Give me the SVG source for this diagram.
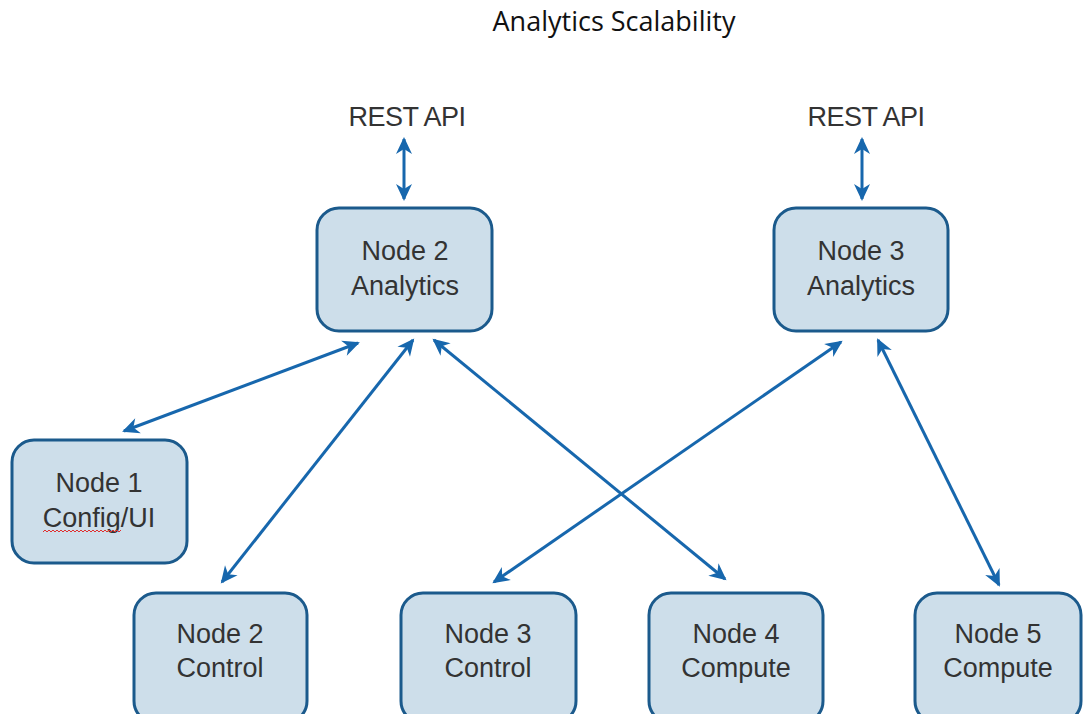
<svg xmlns="http://www.w3.org/2000/svg" width="1083" height="714" viewBox="0 0 1083 714">
<style>
.box{fill:#cddeea;stroke:#1b5a8c;stroke-width:3}
.lbl{font-family:"Liberation Sans",Arial,sans-serif;font-size:27px;fill:#333;text-anchor:middle}
.api{letter-spacing:-0.5px}
.con{stroke:#1767ad;stroke-width:3;fill:none}
.title{font-family:"Open Sans","Liberation Sans",sans-serif;font-size:27px;fill:#111;text-anchor:middle}
</style>
<defs>
<marker id="ah" viewBox="0 0 20 20" refX="16" refY="10" markerWidth="20" markerHeight="20" markerUnits="userSpaceOnUse" orient="auto-start-reverse">
<path d="M1,2 L18,10 L1,18 L6,10 Z" fill="#1767ad"/>
</marker>
</defs>
<rect width="1083" height="714" fill="#ffffff"/>
<text class="title" x="614" y="31">Analytics Scalability</text>
<g id="connectors">
<line class="con" x1="404" y1="139" x2="404" y2="199" marker-start="url(#ah)" marker-end="url(#ah)"/>
<line class="con" x1="862" y1="139" x2="862" y2="199" marker-start="url(#ah)" marker-end="url(#ah)"/>
<line class="con" x1="358" y1="343" x2="124" y2="431" marker-start="url(#ah)" marker-end="url(#ah)"/>
<line class="con" x1="413" y1="340" x2="222" y2="582" marker-start="url(#ah)" marker-end="url(#ah)"/>
<line class="con" x1="434" y1="340" x2="725" y2="579" marker-start="url(#ah)" marker-end="url(#ah)"/>
<line class="con" x1="841" y1="342" x2="494" y2="582" marker-start="url(#ah)" marker-end="url(#ah)"/>
<line class="con" x1="878" y1="340" x2="999" y2="585" marker-start="url(#ah)" marker-end="url(#ah)"/>
</g>
<g id="rest-api-1"><text class="lbl api" x="407" y="126">REST API</text></g>
<g id="rest-api-2"><text class="lbl api" x="866" y="126">REST API</text></g>
<g id="node2-analytics">
<rect class="box" x="317" y="208" width="175" height="123" rx="22"/>
<text class="lbl" x="405" y="260">Node 2</text>
<text class="lbl" x="405" y="295">Analytics</text>
</g>
<g id="node3-analytics">
<rect class="box" x="774" y="208" width="174" height="123" rx="22"/>
<text class="lbl" x="861" y="260">Node 3</text>
<text class="lbl" x="861" y="295">Analytics</text>
</g>
<g id="node1-config">
<rect class="box" x="12" y="440" width="175" height="123" rx="22"/>
<text class="lbl" x="99" y="492">Node 1</text>
<text class="lbl" x="99" y="527">Config/UI</text>
<path d="M43,532 l2,-2 l2,2 l2,-2 l2,2 l2,-2 l2,2 l2,-2 l2,2 l2,-2 l2,2 l2,-2 l2,2 l2,-2 l2,2 l2,-2 l2,2 l2,-2 l2,2 l2,-2 l2,2 l2,-2 l2,2 l2,-2 l2,2 l2,-2 l2,2 l2,-2 l2,2 l2,-2 l2,2 l2,-2 l2,2 l2,-2 l2,2 l2,-2 l2,2 l2,-2 l2,2 l2,-2" fill="none" stroke="#e03030" stroke-width="1"/>
</g>
<g id="node2-control">
<rect class="box" x="134" y="593" width="173" height="130" rx="22"/>
<text class="lbl" x="220" y="643">Node 2</text>
<text class="lbl" x="220" y="677">Control</text>
</g>
<g id="node3-control">
<rect class="box" x="401" y="593" width="175" height="130" rx="22"/>
<text class="lbl" x="488" y="643">Node 3</text>
<text class="lbl" x="488" y="677">Control</text>
</g>
<g id="node4-compute">
<rect class="box" x="649" y="593" width="174" height="130" rx="22"/>
<text class="lbl" x="736" y="643">Node 4</text>
<text class="lbl" x="736" y="677">Compute</text>
</g>
<g id="node5-compute">
<rect class="box" x="915" y="593" width="166" height="130" rx="22"/>
<text class="lbl" x="998" y="643">Node 5</text>
<text class="lbl" x="998" y="677">Compute</text>
</g>
</svg>
